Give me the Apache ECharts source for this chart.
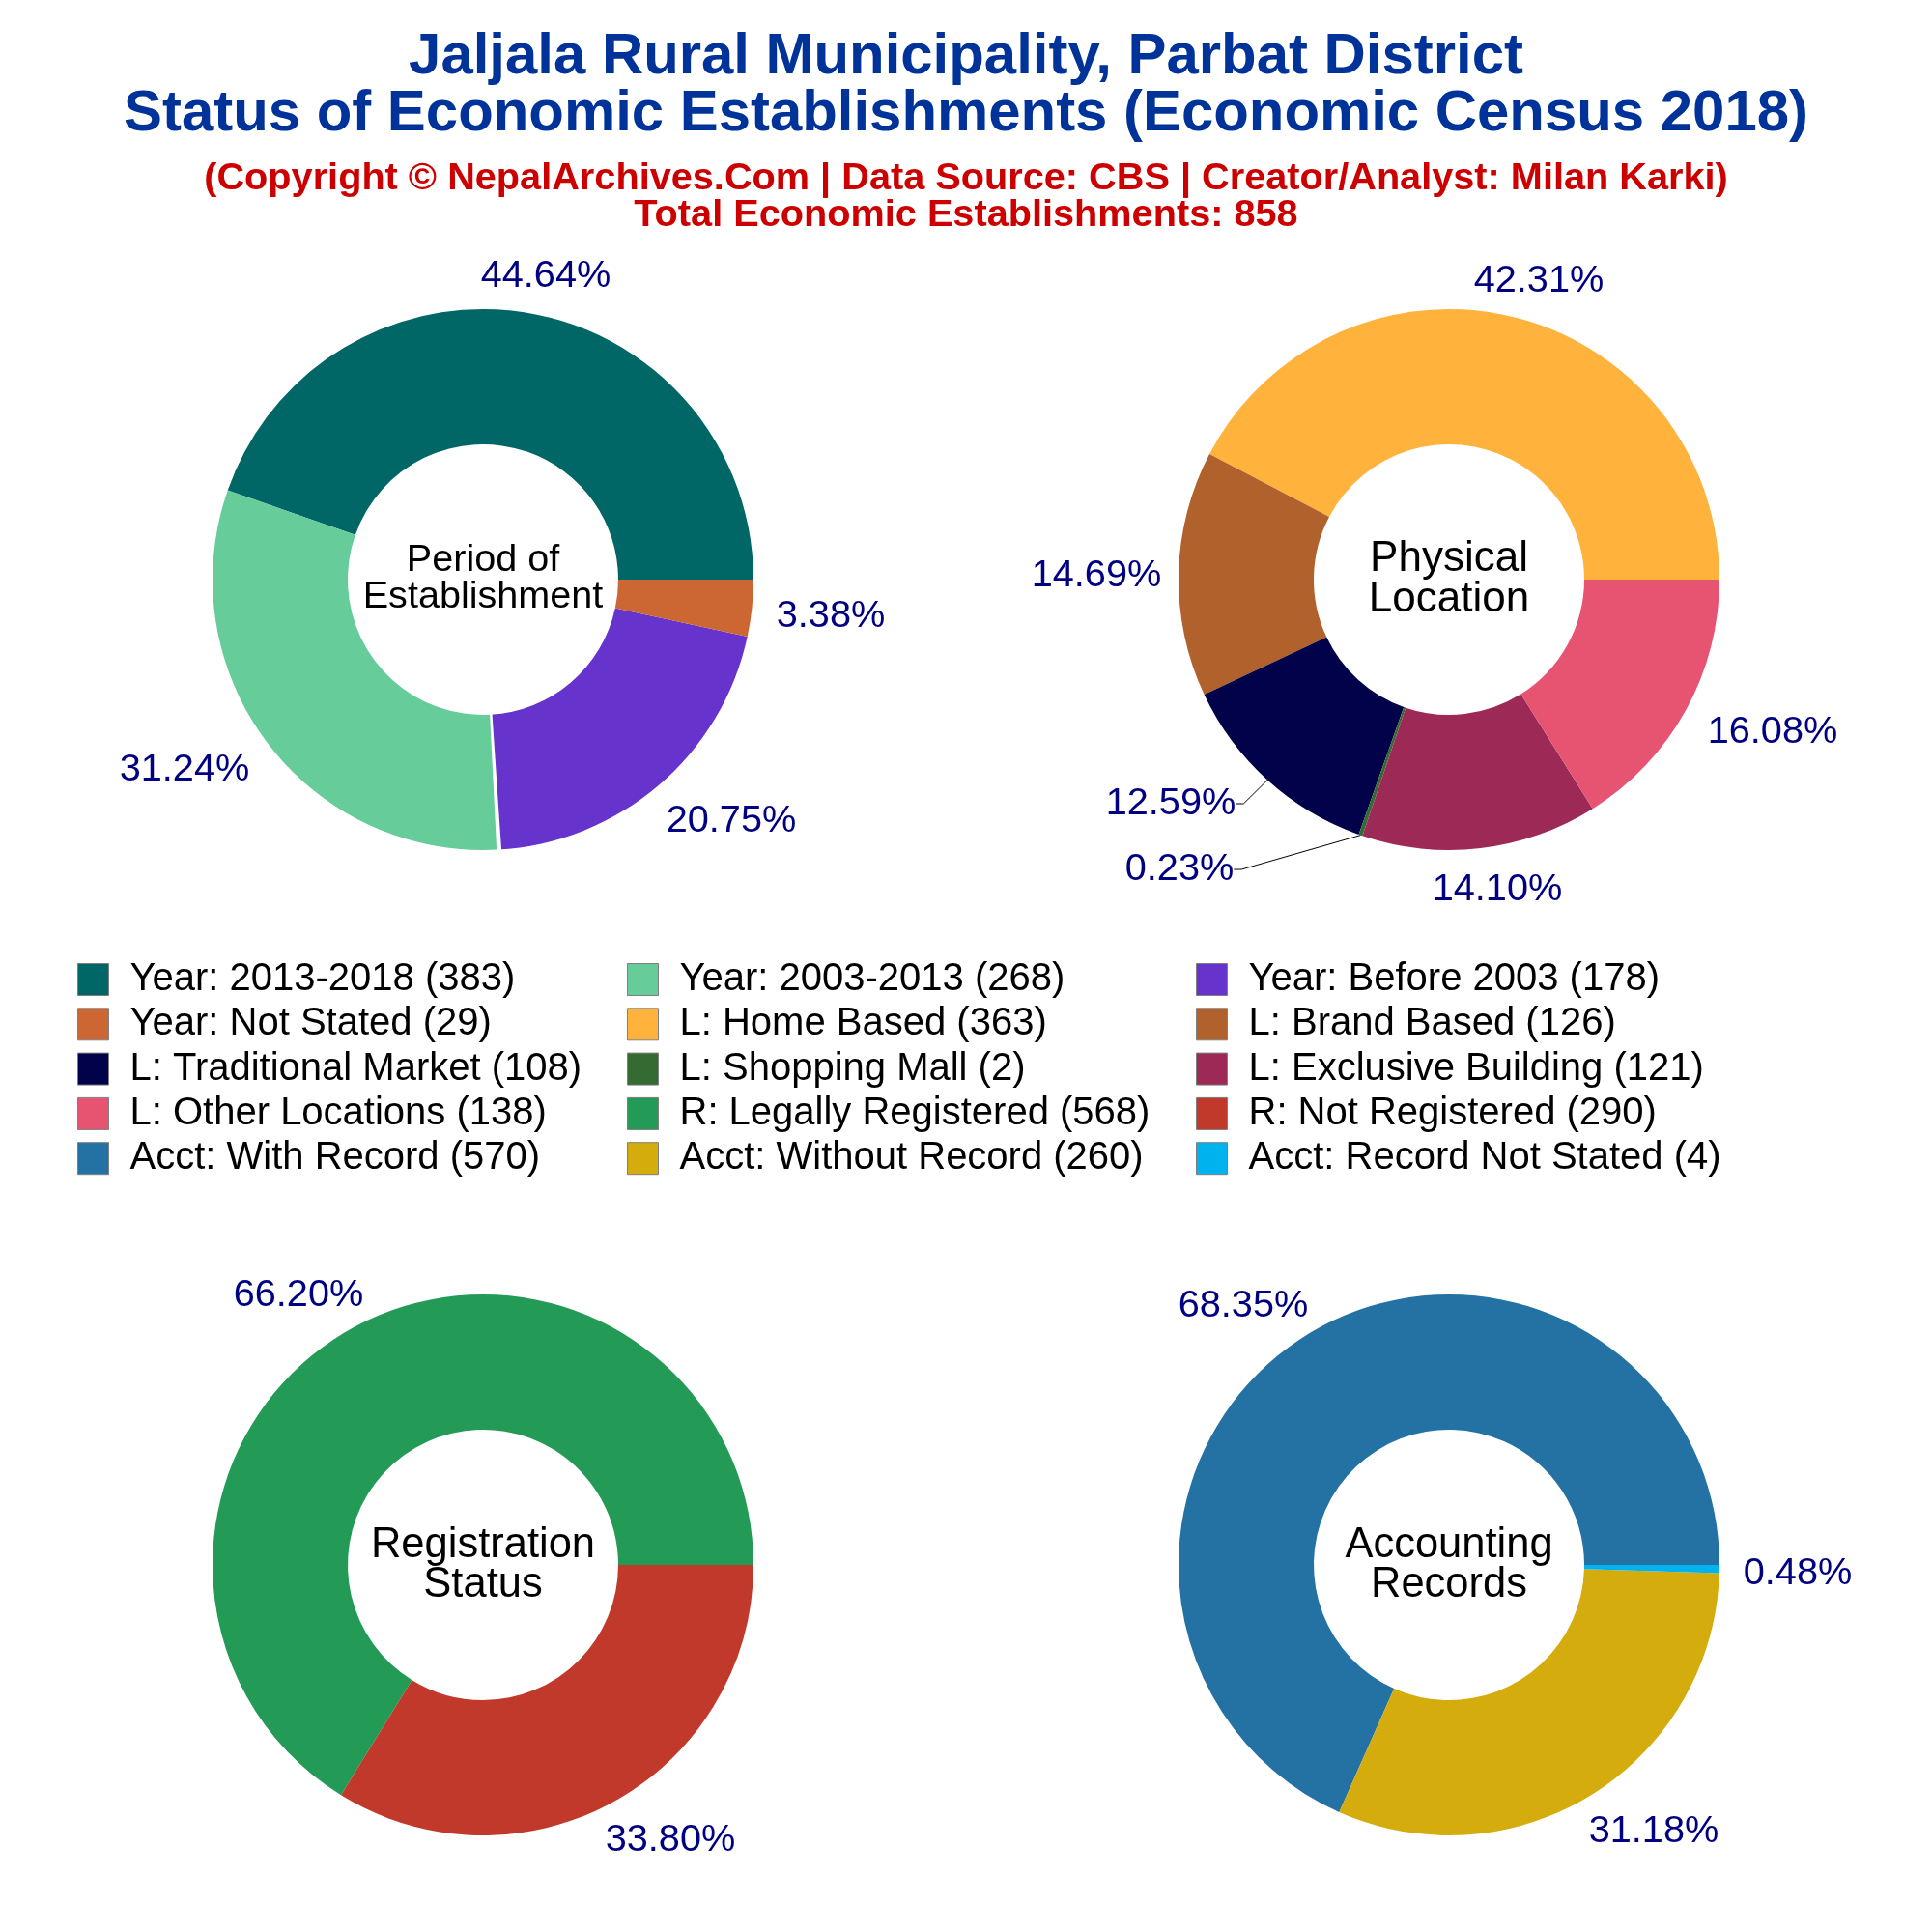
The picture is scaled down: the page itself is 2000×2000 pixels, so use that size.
<!DOCTYPE html>
<html><head><meta charset="utf-8">
<style>html,body{margin:0;padding:0;background:#fff}#c{width:2000px;height:2000px}</style>
<script src="https://cdn.jsdelivr.net/npm/echarts@6/dist/echarts.min.js"></script>
</head><body><div id="c"></div>
<script>
const periodNames = ['Year: 2013-2018 (383)','Year: 2003-2013 (268)','Year: Before 2003 (178)','Year: Not Stated (29)'];
const periodValues = [383,268,178,29];
const periodColors = ['#006666','#66CC99','#6633CC','#CC6633'];
const locationNames = ['L: Home Based (363)','L: Brand Based (126)','L: Traditional Market (108)','L: Shopping Mall (2)','L: Exclusive Building (121)','L: Other Locations (138)'];
const locationValues = [363,126,108,2,121,138];
const locationColors = ['#FFB33C','#B0612C','#02024A','#336B33','#9D2A56','#E75472'];
const regNames = ['R: Legally Registered (568)','R: Not Registered (290)'];
const regValues = [568,290];
const regColors = ['#239B56','#C0392B'];
const acctNames = ['Acct: With Record (570)','Acct: Without Record (260)','Acct: Record Not Stated (4)'];
const acctValues = [570,260,4];
const acctColors = ['#2471A3','#D4AC0D','#00B2EE'];
// thin white sliver seen in the reference between the 2003-2013 and Before 2003 slices
const periodSliver = [650.4,2.4,205.2];
const legendCol1 = ['Year: 2013-2018 (383)','Year: Not Stated (29)','L: Traditional Market (108)','L: Other Locations (138)','Acct: With Record (570)'];
const legendCol2 = ['Year: 2003-2013 (268)','L: Home Based (363)','L: Shopping Mall (2)','R: Legally Registered (568)','Acct: Without Record (260)'];
const legendCol3 = ['Year: Before 2003 (178)','L: Brand Based (126)','L: Exclusive Building (121)','R: Not Registered (290)','Acct: Record Not Stated (4)'];
const titleLines = ['Jaljala Rural Municipality, Parbat District','Status of Economic Establishments (Economic Census 2018)'];
const subtitleLines = ['(Copyright © NepalArchives.Com | Data Source: CBS | Creator/Analyst: Milan Karki)','Total Economic Establishments: 858'];

const FF = '"Liberation Sans", Arial, sans-serif';
const labelPos = {
  period: [[565,286],[191,797],[757,850],[860,638]],
  location: [[1593,291],[1135,596],[1212,832],[1221,900],[1550,921],[1835,758]],
  reg: [[309,1341],[694,1905]],
  acct: [[1287,1352],[1712,1896],[1861,1629]]
};
function pie(names, values, colors, center, posKey, lineIdx){
  const total = values.reduce((a,b)=>a+b,0);
  return {
    type:'pie', center:center, radius:[140,280], startAngle:0, clockwise:false,
    animation:false, minAngle:0, avoidLabelOverlap:false, silent:true,
    data:names.map((n,i)=>({name:n,value:values[i],
      itemStyle:{color:colors[i]},
      labelLine:{show:(lineIdx||[]).includes(i)}
    })),
    label:{show:true,position:'outside',fontFamily:FF,fontSize:39.7,color:'#000080',
      formatter:p=>(p.value/total*100).toFixed(2)+'%'},
    labelLine:{show:false,length:8,length2:8,smooth:false,lineStyle:{color:'#000',width:1}},
    labelLayout:p=>{const q=labelPos[posKey][p.dataIndex];return {x:q[0],y:q[1],align:'center',verticalAlign:'middle'};}
  };
}
function sliver(values, center){
  return {
    type:'pie', center:center, radius:[139,281], startAngle:0, clockwise:false, z:3,
    animation:false, silent:true, avoidLabelOverlap:false,
    label:{show:false}, labelLine:{show:false},
    data:values.map((v,i)=>({value:v,name:'gap'+i,itemStyle:{color:i===1?'#fff':'rgba(0,0,0,0)'}}))
  };
}
function titleAt(text,top,size,color,bold){
  return {text:text,left:1000,top:top,padding:0,textAlign:'center',textStyle:{fontFamily:FF,fontSize:size,fontWeight:bold?'bold':'normal',color:color,lineHeight:size}};
}
function centerText(text,x,y,size,lh){
  return {text:text,left:x,top:y,padding:0,textAlign:'center',textVerticalAlign:'middle',textStyle:{fontFamily:FF,fontSize:size,fontWeight:'normal',color:'#000',lineHeight:lh}};
}
function legend(data,left){
  return {data:data,orient:'vertical',left:left,top:994,icon:'rect',itemWidth:32,itemHeight:33,itemGap:6.3,
    itemStyle:{borderColor:'#7f7f7f',borderWidth:1},
    textStyle:{fontFamily:FF,fontSize:40,color:'#000',padding:[0,0,0,17]},selectedMode:false,padding:0};
}
const chart = echarts.init(document.getElementById('c'),null,{renderer:'canvas'});
chart.setOption({
  backgroundColor:'#fff',animation:false,
  title:[
    titleAt(titleLines[0],30,59.9,'#003399',true),
    titleAt(titleLines[1],89,59.9,'#003399',true),
    titleAt(subtitleLines[0],165,39.7,'#CC0000',true),
    titleAt(subtitleLines[1],203,39.7,'#CC0000',true),
    centerText('Period of\nEstablishment',500,599,39.6,38),
    centerText('Physical\nLocation',1500,600,44,42),
    centerText('Registration\nStatus',500,1620,43.5,41),
    centerText('Accounting\nRecords',1500,1620,43.5,41)
  ],
  legend:[legend(legendCol1,80),legend(legendCol2,649),legend(legendCol3,1238)],
  series:[
    pie(periodNames,periodValues,periodColors,[500,600],'period'),
    pie(locationNames,locationValues,locationColors,[1500,600],'location',[2,3]),
    pie(regNames,regValues,regColors,[500,1620],'reg'),
    pie(acctNames,acctValues,acctColors,[1500,1620],'acct'),
    sliver(periodSliver,[500,600])
  ]
});
</script></body></html>
